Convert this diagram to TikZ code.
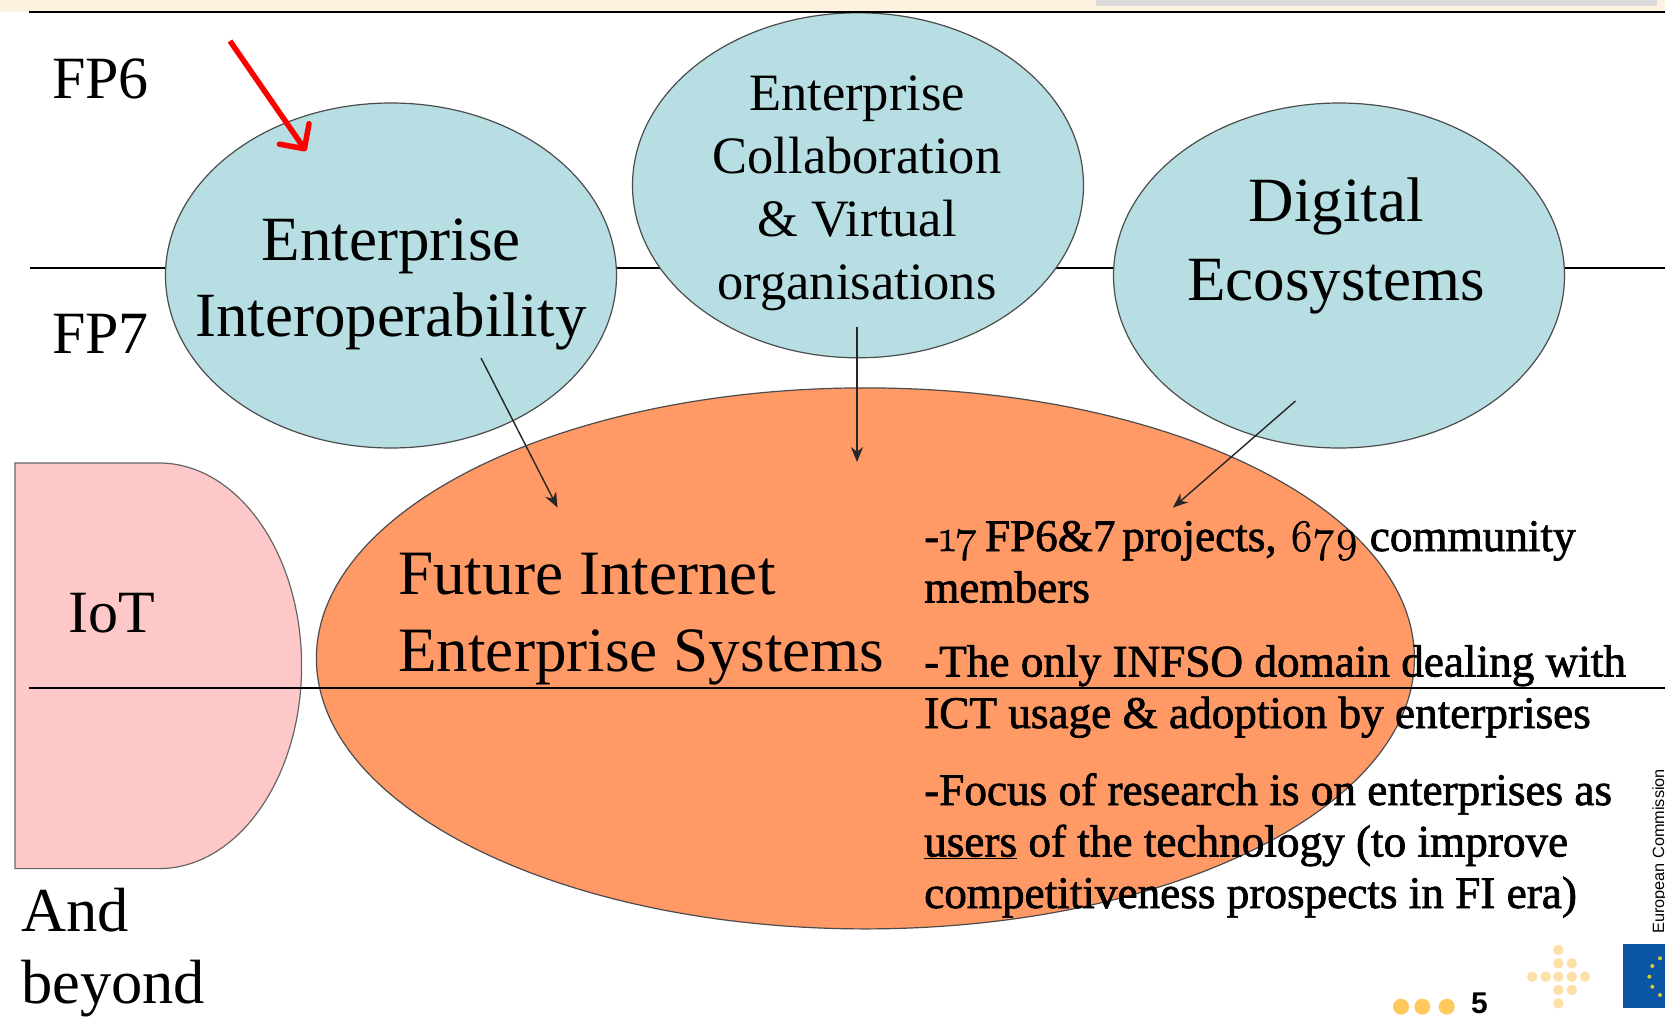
\documentclass[tikz,border=0pt]{standalone}
\usepackage{fontspec}
\setmainfont{Liberation Serif}
\newfontfamily\rtfont[RawFeature={embolden=1.6}]{Liberation Serif}
\newfontfamily\onum[Numbers=OldStyle,RawFeature={embolden=1.6}]{Latin Modern Roman}
\newfontfamily\logofont{Liberation Sans}
\usetikzlibrary{arrows.meta,shapes.geometric}
\definecolor{bandcream}{HTML}{FDF1E0}
\definecolor{bandgrey}{HTML}{DADADA}
\definecolor{ellblue}{HTML}{B7DEE2}
\definecolor{ellorange}{HTML}{FF9966}
\definecolor{iotpink}{HTML}{FFC8C8}
\definecolor{dotyellow}{HTML}{FFC95C}
\definecolor{dotpale}{HTML}{FDDFA8}
\definecolor{eublue}{HTML}{0B55A5}
\definecolor{eustar}{HTML}{D9C92A}
\tikzset{
  x=1pt,y=-1pt,
  bubble/.style={ellipse,draw=black!70,line width=1.2pt,fill=ellblue,minimum width=451pt,minimum height=345pt,inner sep=0pt},
  bigbubble/.style={bubble,fill=ellorange,minimum width=1098pt,minimum height=541pt},
  rule/.style={draw=black,line width=1.8pt},
  conn/.style={draw=black!85,line width=1.4pt,-{Stealth[length=15pt,width=12pt]}},
  redarrow/.style={draw=red,line width=5.5pt,-{Straight Barb[length=18pt,width=36pt,round]}},
  big/.style={inner sep=0pt,font=\fontsize{63}{76}\selectfont,text=black},
  fp/.style={inner sep=0pt,anchor=base west,font=\fontsize{60}{72}\selectfont,text=black},
  rtext/.style={inner sep=0pt,anchor=base west,align=left,font=\rtfont\fontsize{45.2}{51.5}\selectfont,text=black},
  cross/.style={circle,fill=dotpale,inner sep=0pt,minimum size=10.5pt},
  ydot/.style={circle,fill=dotyellow,inner sep=0pt,minimum size=16pt},
  starp/.style={circle,fill=eustar,inner sep=0pt,minimum size=4pt},
}
\begin{document}
\begin{tikzpicture}
\useasboundingbox (0,0) rectangle (1665,1017);
\fill[white] (0,0) rectangle (1665,1017);
% top band
\fill[bandcream] (0,0) rectangle (1665,12);
\fill[bandgrey] (1096,0) rectangle (1657,6);
% FP6/FP7 rule
\coordinate (ruleAa) at (30,267.6);
\coordinate (ruleAb) at (1665,267.6);
\draw[rule] (ruleAa) -- (ruleAb);
% bubbles
\node[bubble] (ei) at (391,275.5) {};
\node[bubble] (ec) at (858,185.3) {};
\node[bubble] (de) at (1339,275.5) {};
\node[bigbubble] (fi) at (865.4,658.4) {};
% IoT shape
\draw[draw=black!60,line width=1.2pt,fill=iotpink] (15,463) -- (159,463)
  arc[start angle=90,end angle=-90,x radius=142.6pt,y radius=202.8pt] -- (15,868.6) -- cycle;
% rules on top
\coordinate (ruleTa) at (29,12.3);
\coordinate (ruleTb) at (1665,12.3);
\draw[rule] (ruleTa) -- (ruleTb);
\coordinate (ruleBa) at (29,688);
\coordinate (ruleBb) at (1665,688);
\draw[rule] (ruleBa) -- (ruleBb);
% connectors
\coordinate (a1s) at (481,358);
\coordinate (a1e) at (557.5,507.6);
\coordinate (a2s) at (857,327);
\coordinate (a2e) at (857,462);
\coordinate (a3s) at (1295.5,401);
\coordinate (a3e) at (1173,507.6);
\draw[conn] (a1s) -- (a1e);
\draw[conn] (a2s) -- (a2e);
\draw[conn] (a3s) -- (a3e);
\coordinate (rs) at (230,41);
\coordinate (re) at (306,151);
\draw[redarrow] (rs) -- (re);
% labels
\node[big,align=center,anchor=base] (eit) at (391,336.6) {Enterprise\\Interoperability};
\node[big,align=center,anchor=base,font=\fontsize{52.5}{63}\selectfont] (ect) at (857,299.5) {Enterprise\\Collaboration\\\&\ Virtual\\organisations};
\node[big,align=center,anchor=base,font=\fontsize{63}{78.5}\selectfont] (det) at (1336,300) {Digital\\Ecosystems};
\node[big,align=left,anchor=base west,font=\fontsize{63.2}{76.5}\selectfont] (fit) at (398,671) {Future Internet\\Enterprise Systems};
\node[fp] (fp6) at (52,98.8) {FP6};
\node[fp] (fp7) at (52,353.6) {FP7};
\node[fp] (iot) at (68,632) {IoT};
\node[fp,align=left,font=\fontsize{62.5}{72}\selectfont] (beyond) at (21,1003) {And\\beyond};
\node[rtext] (p1) at (924,602.5) {-{\onum 17}\hspace{-0.08em}\ FP6\&7\hspace{-0.1em}\ projects,\hspace{0.04em}\ {\onum 679}\ community\\members};
\node[rtext] (p2) at (924,728) {-The only INFSO domain dealing with\\ICT usage \& adoption by enterprises};
\node[rtext] (p3) at (924,908) {-Focus of research is on enterprises as\\\underline{users} of the technology (to improve\\competitiveness prospects in FI era)};
% logos
\foreach \n/\px/\py in {c1/1558.3/950,c2/1558.3/963.3,c3/1571.7/963.3,c4/1532.3/976.7,c5/1545.7/976.7,c6/1558.3/976.7,c7/1571.7/976.7,c8/1585/976.7,c9/1558.3/990,c10/1571.7/990,c11/1558.3/1003.3}
  \node[cross] (\n) at (\px,\py) {};
\foreach \n/\px in {y1/1401,y2/1422.3,y3/1446.7}
  \node[ydot] (\n) at (\px,1006.7) {};
\node[inner sep=0pt,anchor=base west,font=\logofont\bfseries\fontsize{30}{30}\selectfont] (pg) at (1471,1013) {5};
\fill[eublue] (1622.7,944) rectangle (1665,1008);
\foreach \n/\px/\py in {s1/1660/958.3,s2/1652.3/966,s3/1649.3/976.7,s4/1652.3/986.7,s5/1660/995}
  \node[starp] (\n) at (\px,\py) {};
\node[inner sep=0pt,anchor=base west,rotate=90,font=\logofont\fontsize{16.3}{17}\selectfont] (ecl) at (1664,934) {European Commission};
\end{tikzpicture}
\end{document}
